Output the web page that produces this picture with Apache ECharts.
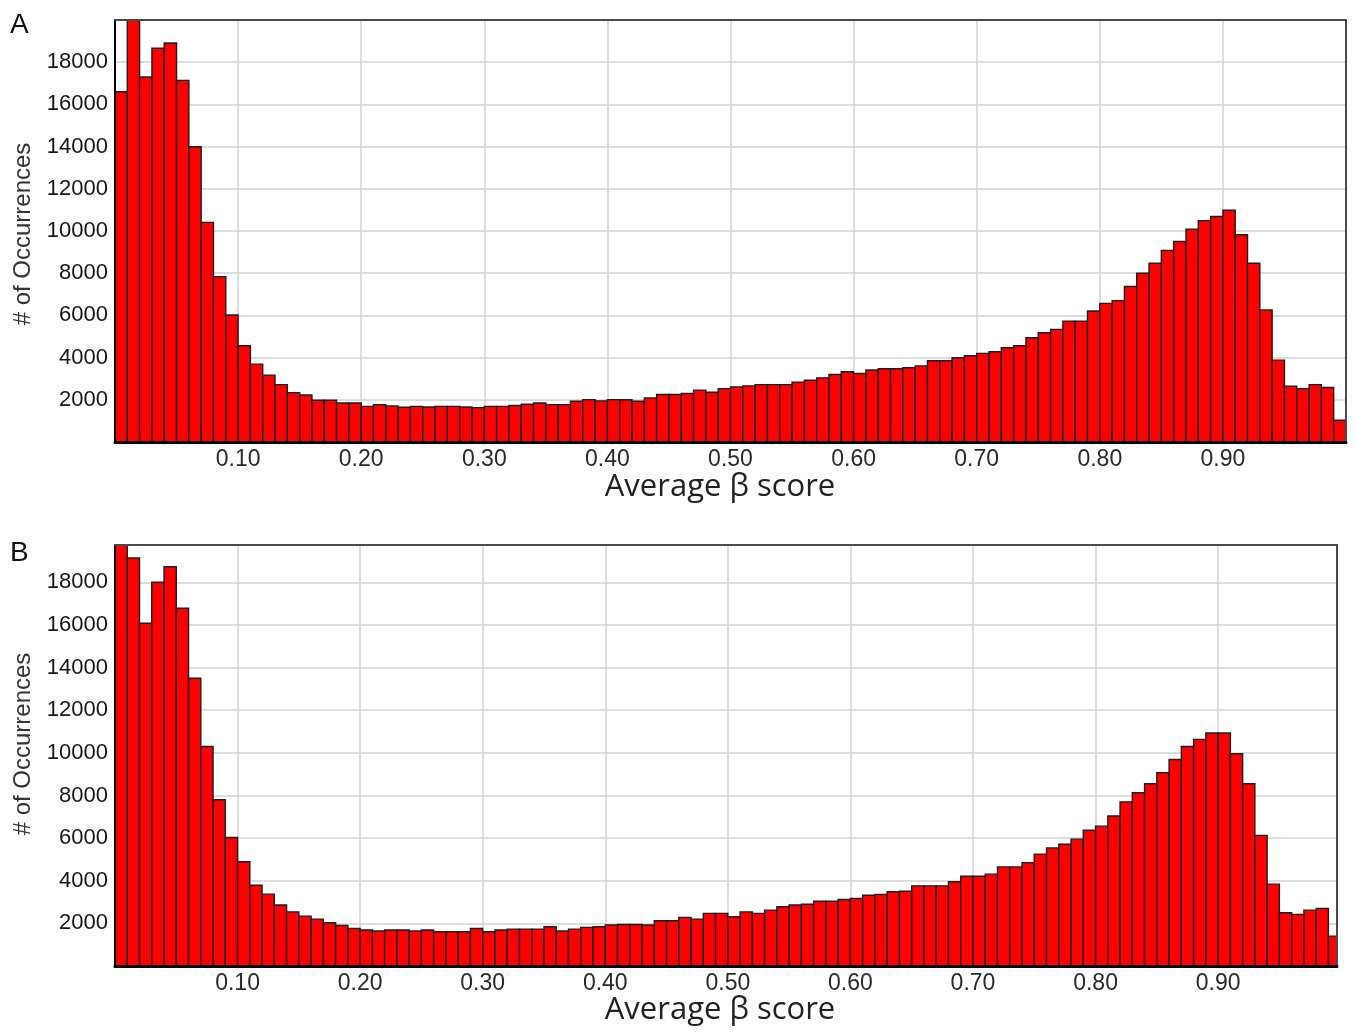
<!DOCTYPE html>
<html>
<head>
<meta charset="utf-8">
<script src="https://cdn.jsdelivr.net/npm/echarts@6/dist/echarts.min.js"></script>
<style>
html,body{margin:0;padding:0;background:#fff;}
#chart{width:1355px;height:1032px;}
</style>
</head>
<body>
<div id="chart"></div>
<script>
// Histogram bins: 100 bins of width 0.01 starting at 0
const binStart = 0;
const binWidth = 0.01;

// Panel A counts per bin (0.00-0.01, 0.01-0.02, ... 0.99-1.00)
const countsA = [
  16600, 20000, 17300, 18660, 18910, 17140, 13990, 10410, 7840, 6020,
  4560, 3690, 3170, 2720, 2340, 2230, 1980, 1980, 1850, 1850,
  1690, 1770, 1710, 1650, 1690, 1660, 1690, 1690, 1660, 1630,
  1690, 1690, 1730, 1790, 1850, 1770, 1770, 1930, 2010, 1950,
  2010, 2000, 1930, 2090, 2250, 2250, 2300, 2460, 2360, 2530,
  2610, 2660, 2720, 2720, 2720, 2840, 2930, 3040, 3200, 3330,
  3250, 3410, 3470, 3470, 3520, 3610, 3850, 3850, 3990, 4090,
  4200, 4280, 4470, 4560, 4940, 5180, 5340, 5730, 5730, 6210,
  6570, 6700, 7370, 8000, 8470, 9080, 9500, 10090, 10490, 10690,
  10980, 9820, 8470, 6260, 3880, 2650, 2530, 2720, 2580, 1030
];

// Panel B counts per bin
const countsB = [
  19750, 19140, 16080, 18000, 18730, 16780, 13500, 10300, 7800, 6030,
  4890, 3790, 3370, 2860, 2540, 2340, 2200, 2030, 1900, 1760,
  1690, 1640, 1690, 1690, 1640, 1690, 1610, 1610, 1610, 1760,
  1610, 1690, 1730, 1730, 1730, 1840, 1640, 1730, 1810, 1840,
  1920, 1950, 1950, 1920, 2120, 2120, 2280, 2200, 2470, 2470,
  2310, 2540, 2470, 2620, 2780, 2860, 2900, 3040, 3040, 3120,
  3170, 3320, 3360, 3480, 3510, 3760, 3760, 3760, 3950, 4210,
  4210, 4310, 4650, 4650, 4850, 5250, 5540, 5710, 5950, 6370,
  6560, 7040, 7700, 8130, 8550, 9070, 9690, 10300, 10630, 10930,
  10930, 9960, 8550, 6130, 3840, 2500, 2420, 2620, 2700, 1400
];

const panelLabels = ['A', 'B'];
const xTitle = 'Average \u03b2 score';
const yTitle = '# of Occurrences';

function toBins(counts) {
  return counts.map((c, i) => [binStart + i * binWidth, binStart + (i + 1) * binWidth, c]);
}

function renderItem(params, api) {
  const p0 = api.coord([api.value(0), api.value(2)]);
  const p1 = api.coord([api.value(1), 0]);
  const cs = params.coordSys;
  const shape = echarts.graphic.clipRectByRect(
    {x: p0[0], y: p0[1], width: p1[0] - p0[0], height: p1[1] - p0[1]},
    {x: cs.x, y: cs.y, width: cs.width, height: cs.height}
  );
  if (!shape) return;
  return {
    type: 'rect',
    shape: shape,
    style: {fill: '#ff0000', stroke: '#1e1e1e', lineWidth: 1.4}
  };
}

const tickFont = 'Liberation Sans, Arial, sans-serif';
const noLine = {show: false};

// main axes: axis line + labels, drawn above bars
function mainX(g, max) {
  return {
    type: 'value', gridIndex: g, min: 0, max: max, interval: 0.1, position: 'bottom',
    axisLine: {show: true, onZero: false, lineStyle: {color: '#000', width: 3}},
    axisTick: noLine, splitLine: noLine,
    axisLabel: {
      show: true, margin: 6, color: '#2a2a2a', fontSize: 23, fontFamily: tickFont,
      showMinLabel: false, showMaxLabel: false, formatter: v => v.toFixed(2)
    },
    z: 4
  };
}
function mainY(g, max) {
  return {
    type: 'value', gridIndex: g, min: 0, max: max, interval: 2000, position: 'left',
    axisLine: {show: true, onZero: false, lineStyle: {color: '#000', width: 2}},
    axisTick: noLine, splitLine: noLine,
    axisLabel: {
      show: true, margin: 7, color: '#161616', fontSize: 22, fontFamily: tickFont,
      showMinLabel: false, showMaxLabel: false, formatter: v => String(v)
    },
    z: 4
  };
}
// grid-line axes: only split lines, drawn below bars
function gridX(g, max) {
  return {
    type: 'value', gridIndex: g, min: 0, max: max, interval: 0.1, position: 'bottom',
    axisLine: noLine, axisTick: noLine, axisLabel: noLine,
    splitLine: {show: true, lineStyle: {color: '#d2d2d2', width: 1.5}}, z: 0
  };
}
function gridY(g, max) {
  return {
    type: 'value', gridIndex: g, min: 0, max: max, interval: 2000, position: 'left',
    axisLine: noLine, axisTick: noLine, axisLabel: noLine,
    splitLine: {show: true, lineStyle: {color: '#d2d2d2', width: 1.5}}, z: 0
  };
}
// frame axes: top and right edges of the plot box
function frameX(g, max) {
  return {type: 'value', gridIndex: g, position: 'top', min: 0, max: max,
    axisLine: {show: true, onZero: false, lineStyle: {color: '#4a4a4a', width: 2}},
    axisTick: noLine, axisLabel: noLine, splitLine: noLine, z: 4};
}
function frameY(g, max) {
  return {type: 'value', gridIndex: g, position: 'right', min: 0, max: max,
    axisLine: {show: true, onZero: false, lineStyle: {color: '#4a4a4a', width: 2}},
    axisTick: noLine, axisLabel: noLine, splitLine: noLine, z: 4};
}

const xMaxA = 1.0, xMaxB = 0.997;
const yMaxA = 20000, yMaxB = 19750;

const chart = echarts.init(document.getElementById('chart'), null, {renderer: 'canvas'});
chart.setOption({
  animation: false,
  backgroundColor: '#ffffff',
  grid: [
    {left: 115, top: 20, width: 1231, height: 422},
    {left: 115, top: 545, width: 1222, height: 421}
  ],
  xAxis: [mainX(0, xMaxA), mainX(1, xMaxB), gridX(0, xMaxA), gridX(1, xMaxB), frameX(0, xMaxA), frameX(1, xMaxB)],
  yAxis: [mainY(0, yMaxA), mainY(1, yMaxB), gridY(0, yMaxA), gridY(1, yMaxB), frameY(0, yMaxA), frameY(1, yMaxB)],
  series: [
    {type: 'custom', xAxisIndex: 0, yAxisIndex: 0, renderItem: renderItem, data: toBins(countsA), encode: {x: [0, 1], y: 2}},
    {type: 'custom', xAxisIndex: 1, yAxisIndex: 1, renderItem: renderItem, data: toBins(countsB), encode: {x: [0, 1], y: 2}}
  ],
  graphic: [
    {type: 'text', left: 10, top: 11, style: {text: panelLabels[0], font: '28px Liberation Sans, Arial, sans-serif', fill: '#111'}},
    {type: 'text', left: 10, top: 539, style: {text: panelLabels[1], font: '28px Liberation Sans, Arial, sans-serif', fill: '#111'}},
    {type: 'text', x: 720, y: 487, style: {text: xTitle, font: '31px Open Sans, Noto Sans, sans-serif', fill: '#222', align: 'center', verticalAlign: 'middle'}},
    {type: 'text', x: 720, y: 1010, style: {text: xTitle, font: '31px Open Sans, Noto Sans, sans-serif', fill: '#222', align: 'center', verticalAlign: 'middle'}},
    {type: 'text', x: 23, y: 234, rotation: Math.PI / 2, style: {text: yTitle, font: '24px Liberation Sans, Arial, sans-serif', fill: '#333', align: 'center', verticalAlign: 'middle'}},
    {type: 'text', x: 23, y: 744, rotation: Math.PI / 2, style: {text: yTitle, font: '24px Liberation Sans, Arial, sans-serif', fill: '#333', align: 'center', verticalAlign: 'middle'}}
  ]
});
</script>
</body>
</html>
